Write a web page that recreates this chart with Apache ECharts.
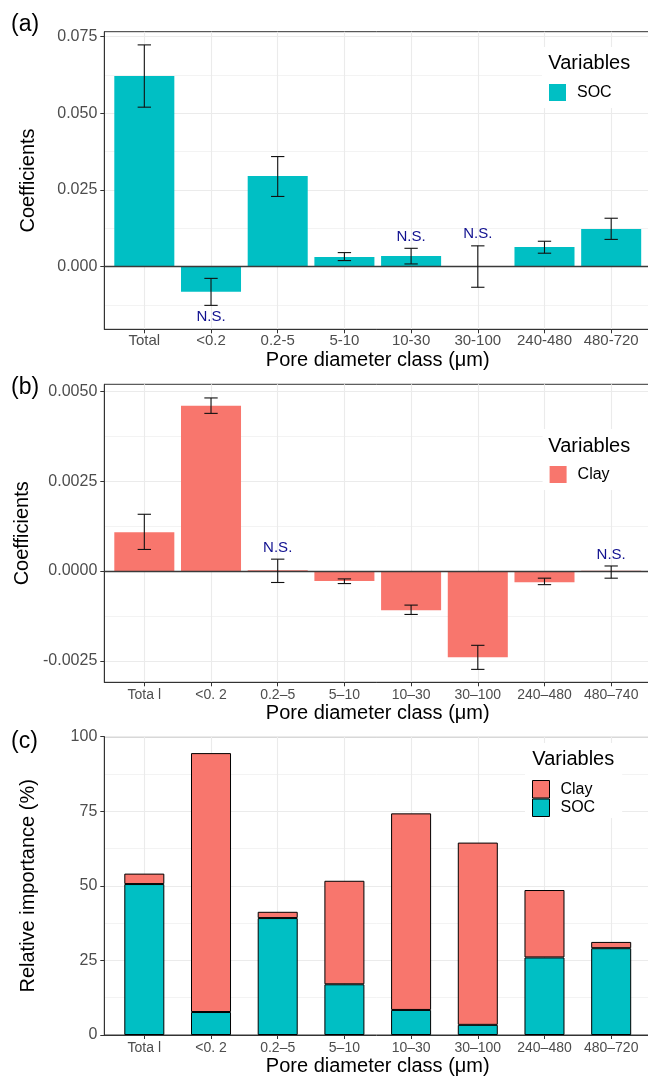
<!DOCTYPE html>
<html><head><meta charset="utf-8">
<script src="https://cdn.jsdelivr.net/npm/echarts@6/dist/echarts.min.js"></script>
<style>html,body{margin:0;padding:0;background:#fff}#c{width:648px;height:1077px}</style>
</head><body><div id="c"></div>
<script>
// ---------- data ----------
const categoriesA = ['Total', '<0.2', '0.2-5', '5-10', '10-30', '30-100', '240-480', '480-720'];
const categoriesB = ['Tota l', '<0. 2', '0.2–5', '5–10', '10–30', '30–100', '240–480', '480–740'];
const categoriesC = ['Tota l', '<0. 2', '0.2–5', '5–10', '10–30', '30–100', '240–480', '480–720'];

const socCoef = [0.0622, -0.0082, 0.0296, 0.0032, 0.0035, 0.0002, 0.0064, 0.0123];
const socLow  = [0.0520, -0.0126, 0.0229, 0.0020, 0.0009, -0.0067, 0.0044, 0.0089];
const socHigh = [0.0723, -0.0038, 0.0359, 0.0046, 0.0060, 0.0068, 0.0083, 0.0158];
const socNS   = [0, 1, 0, 0, 1, 1, 0, 0];

const clayCoef = [0.00108, 0.00460, 0.00002, -0.00028, -0.00109, -0.00240, -0.00031, 0.00001];
const clayLow  = [0.00060, 0.00439, -0.00032, -0.00035, -0.00121, -0.00274, -0.00038, -0.00020];
const clayHigh = [0.00158, 0.00482, 0.00033, -0.00022, -0.00095, -0.00207, -0.00020, 0.00014];
const clayNS   = [0, 0, 1, 0, 0, 0, 0, 1];

const socImportance  = [50.6, 7.7, 39.2, 17.0, 8.4, 3.4, 26.0, 29.1];
const clayImportance = [3.5, 86.8, 2.1, 34.7, 65.9, 61.1, 22.6, 2.1];

const yTicksA = [0, 0.025, 0.05, 0.075];
const yTicksB = [-0.0025, 0, 0.0025, 0.005];
const yTicksC = [0, 25, 50, 75, 100];

// ---------- helpers ----------
const FONT = '"Liberation Sans", Arial, Helvetica, sans-serif';
const TEAL = '#00BFC4', SALMON = '#F8766D';
const catIndex = categoriesA.map((_, i) => i);

function gridBox(top, height) {
  return { left: 104.3, top: top, width: 546.9, height: height, show: true,
    borderColor: '#333', borderWidth: 1, backgroundColor: 'transparent',
    containLabel: false, outerBoundsMode: 'none' };
}

function xAxis(gi, cats, fontSize, margin) {
  return {
    type: 'value', gridIndex: gi, min: -0.6, max: 7.6, minInterval: 1, maxInterval: 1,
    name: 'Pore diameter class (μm)', nameLocation: 'middle', nameGap: 21,
    nameTextStyle: { fontSize: 20, color: '#000', fontFamily: FONT },
    axisLine: { show: true, onZero: false, lineStyle: { color: '#333', width: 1 } },
    axisTick: { show: true, length: 4, customValues: catIndex, lineStyle: { color: '#333' } },
    axisLabel: { show: true, customValues: catIndex, margin: margin, fontSize: fontSize,
      color: '#4D4D4D', fontFamily: FONT,
      formatter: v => { const i = Math.round(v); return (Math.abs(v - i) < 1e-6 && cats[i] !== undefined) ? cats[i] : ''; } },
    splitLine: { show: true, lineStyle: { color: '#EBEBEB', width: 1.1 } },
    minorSplitLine: { show: false }
  };
}

function yAxis(gi, min, max, step, ticks, digits, name) {
  return {
    type: 'value', gridIndex: gi, min: min, max: max, minInterval: step, maxInterval: step,
    name: name, nameLocation: 'middle', nameGap: 66, nameRotate: 90,
    nameTextStyle: { fontSize: 20, color: '#000', fontFamily: FONT },
    axisLine: { show: true, onZero: false, lineStyle: { color: '#333', width: 1 } },
    axisTick: { show: true, length: 4, customValues: ticks, lineStyle: { color: '#333' } },
    axisLabel: { show: true, customValues: ticks, margin: 7, fontSize: 16, color: '#4D4D4D', fontFamily: FONT,
      formatter: v => ticks.some(t => Math.abs(t - v) < step * 1e-4) ? (Math.abs(v) < step * 1e-4 ? 0 : v).toFixed(digits) : '' },
    splitLine: { show: true, lineStyle: { color: '#EBEBEB', width: 1.1 } },
    minorTick: { show: false, splitNumber: 2 },
    minorSplitLine: { show: true, lineStyle: { color: '#F2F2F2', width: 0.9 } }
  };
}

function errorSeries(gi, low, high) {
  return {
    type: 'custom', xAxisIndex: gi, yAxisIndex: gi, silent: true, z: 5,
    data: low.map((v, i) => [i, v, high[i]]),
    encode: { x: 0, y: [1, 2] },
    renderItem: (params, api) => {
      const x = api.value(0);
      const a = api.coord([x, api.value(2)]);
      const b = api.coord([x, api.value(1)]);
      const hw = api.size([1, 0])[0] * 0.1;
      const st = { stroke: '#111', lineWidth: 1.1 };
      return { type: 'group', children: [
        { type: 'line', shape: { x1: a[0], y1: a[1], x2: b[0], y2: b[1] }, style: st },
        { type: 'line', shape: { x1: a[0] - hw, y1: a[1], x2: a[0] + hw, y2: a[1] }, style: st },
        { type: 'line', shape: { x1: b[0] - hw, y1: b[1], x2: b[0] + hw, y2: b[1] }, style: st }
      ] };
    }
  };
}

function nsSeries(gi, coef, low, high, flags) {
  const data = [];
  flags.forEach((f, i) => { if (f) data.push(coef[i] < 0 ? [i, low[i], -1] : [i, high[i], 1]); });
  return {
    type: 'custom', xAxisIndex: gi, yAxisIndex: gi, silent: true, z: 6,
    data: data, encode: { x: 0, y: 1 },
    renderItem: (params, api) => {
      const p = api.coord([api.value(0), api.value(1)]);
      const dir = api.value(2);
      return { type: 'text', x: p[0], y: p[1] - dir * 11.5,
        style: { text: 'N.S.', fill: '#10108F', fontSize: 15, fontFamily: FONT, align: 'center', verticalAlign: 'middle' } };
    }
  };
}

function zeroLine() {
  return { silent: true, symbol: 'none', label: { show: false }, animation: false,
    lineStyle: { color: '#3a3a3a', width: 1.3, type: 'solid' }, data: [{ yAxis: 0 }] };
}

function legendBox(names, left, top, padding, itemHeight, border) {
  return {
    data: names, left: left, top: top, orient: 'vertical', padding: padding,
    backgroundColor: '#fff', itemWidth: 17, itemHeight: itemHeight, itemGap: 0, icon: 'rect',
    selectedMode: false,
    itemStyle: border ? { borderColor: '#000', borderWidth: 1 } : { borderWidth: 0 },
    textStyle: { fontSize: 16, color: '#000', fontFamily: FONT, padding: [0, 0, 0, 6] }
  };
}

function titleText(text, left, top, size) {
  return { text: text, left: left, top: top, padding: 0, z: 10,
    textStyle: { fontSize: size, fontWeight: 'normal', color: '#000', fontFamily: FONT } };
}

// stacked bars: value first so the stack runs along the value (y) dimension
function stackedBar(name, values, color) {
  return { type: 'bar', name: name, xAxisIndex: 2, yAxisIndex: 2, barWidth: '60%', stack: 'imp',
    data: values.map((v, i) => [v, i]), encode: { x: 1, y: 0 },
    itemStyle: { color: color, borderColor: '#000', borderWidth: 1 } };
}

// ---------- chart ----------
const chart = echarts.init(document.getElementById('c'), null, { renderer: 'canvas' });

const option = {
  animation: false,
  backgroundColor: '#fff',
  textStyle: { fontFamily: FONT },
  title: [
    titleText('(a)', 11, 13, 23),
    titleText('(b)', 11, 376, 23),
    titleText('(c)', 11, 730, 23),
    titleText('Variables', 548.3, 53, 20),
    titleText('Variables', 548.3, 436, 20),
    titleText('Variables', 532.3, 749.5, 20)
  ],
  legend: [
    legendBox(['SOC'], 542, 47, [37, 90, 7, 7], 17, false),
    legendBox(['Clay'], 542.6, 429, [37, 90, 7, 7], 17, false),
    legendBox(['Clay', 'SOC'], 525, 743, [37, 27, 1, 7], 17.5, true)
  ],
  grid: [gridBox(31.7, 297.6), gridBox(384.3, 298), gridBox(736.7, 298.3)],
  xAxis: [xAxis(0, categoriesA, 15, 4), xAxis(1, categoriesB, 14, 6), xAxis(2, categoriesC, 14, 6)],
  yAxis: [
    yAxis(0, -0.0204, 0.0766, 0.025, yTicksA, 3, 'Coefficients'),
    yAxis(1, -0.0031, 0.0052, 0.0025, yTicksB, 4, 'Coefficients'),
    yAxis(2, 0, 100, 25, yTicksC, 0, 'Relative importance (%)')
  ],
  series: [
    { type: 'bar', name: 'SOC', xAxisIndex: 0, yAxisIndex: 0, barWidth: '90%',
      data: socCoef.map((v, i) => [i, v]), itemStyle: { color: TEAL }, markLine: zeroLine() },
    errorSeries(0, socLow, socHigh),
    nsSeries(0, socCoef, socLow, socHigh, socNS),

    { type: 'bar', name: 'Clay', xAxisIndex: 1, yAxisIndex: 1, barWidth: '90%',
      data: clayCoef.map((v, i) => [i, v]), itemStyle: { color: SALMON }, markLine: zeroLine() },
    errorSeries(1, clayLow, clayHigh),
    nsSeries(1, clayCoef, clayLow, clayHigh, clayNS),

    stackedBar('SOC', socImportance, TEAL),
    stackedBar('Clay', clayImportance, SALMON)
  ]
};
chart.setOption(option);
</script>
</body></html>
